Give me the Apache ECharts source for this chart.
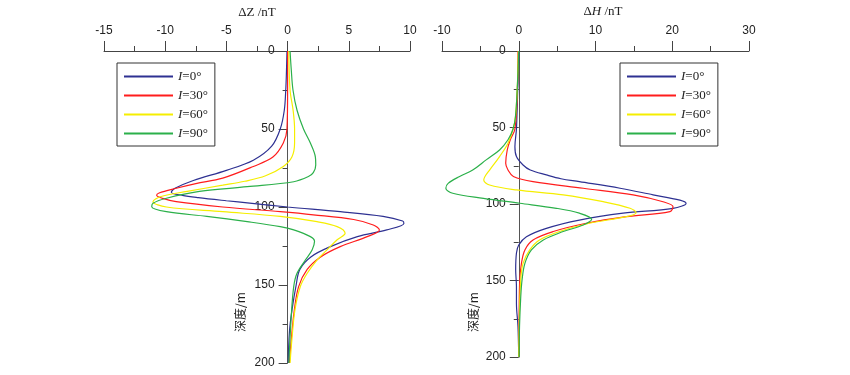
<!DOCTYPE html>
<html>
<head>
<meta charset="utf-8">
<script src="https://cdn.jsdelivr.net/npm/echarts@6/dist/echarts.min.js"></script>
<style>
  html, body { margin: 0; padding: 0; background: #fff; }
  #chart { width: 850px; height: 375px; }
</style>
</head>
<body>
<div id="chart"></div>
<script>
// curve names (I = inclination)
const names = ['I=0°', 'I=30°', 'I=60°', 'I=90°'];
const colors = ['#2e3192', '#ff1c1c', '#f5ee00', '#2bb04a'];

// ΔZ (nT) vs depth (m), pairs [value, depth]
const dz0 = [[-0.05,0],[-0.1,15],[-0.15,25],[-0.27,38],[-0.6,50],[-1.3,61],[-2.8,70],[-5.0,76.5],[-7.7,83],[-9.2,88],[-9.5,90.5],[-8.6,92.5],[-7.3,94],[-5.0,96],[-3.1,97.5],[0,100],[4.3,103],[7.8,106],[9.4,109],[9.5,110.5],[8.1,114.7],[5.7,119],[3.5,125.4],[1.9,132],[1.0,140],[0.7,150],[0.36,166],[0.15,180],[0.05,200]];
const dz30 = [[0,0],[0,25],[-0.05,50],[-0.35,59],[-1.2,68],[-2.8,74],[-5.3,81.5],[-7.5,85],[-9.1,88],[-10.5,91],[-10.7,92.5],[-10.2,94.5],[-9.1,96.6],[-5.3,100],[-0.6,103],[2.1,105],[5.4,108],[7.0,111.5],[7.5,114.7],[6.5,119],[4.3,125.4],[2.7,132],[1.6,140],[0.9,151],[0.55,166],[0.3,185],[0.15,200]];
const dz60 = [[0.1,0],[0.2,25],[0.45,38],[0.57,50],[0.57,59],[0.35,68],[-0.35,74],[-1.8,80],[-3.5,83.5],[-5.3,86],[-8.2,90],[-10.4,93.4],[-11.0,96.6],[-9.9,100],[-5.3,103],[-0.6,106],[2.4,109.4],[4.05,112.6],[4.7,116.9],[4.05,121],[3.2,127.6],[2.4,134],[1.6,142.5],[1.04,151],[0.6,166],[0.35,185],[0.2,200]];
const dz90 = [[0.2,0],[0.3,12],[0.44,25],[0.77,38],[1.3,50],[1.86,59],[2.27,68],[2.3,73],[2.1,78],[1.7,80.5],[0.5,83.8],[-3.3,87],[-7.2,90],[-9.9,94.4],[-11.0,97.6],[-11.1,99.8],[-9.9,103],[-6.6,106],[-3.3,109.4],[-0.6,112.6],[0.5,114.7],[1.86,119],[2.2,122],[2.0,127.6],[1.45,134],[0.77,142.5],[0.5,151],[0.3,170],[0.1,200]];

// ΔH (nT) vs depth (m)
const dh0 = [[0,0],[-0.05,15],[-0.13,25],[-0.3,51],[-0.5,62.5],[-0.3,69],[0.56,74.5],[1.5,77.8],[3.6,81],[5.5,83.5],[7.9,85.4],[13.2,89.7],[17.5,94],[21.0,97.5],[21.8,99.6],[20.1,102.8],[13.6,106],[7.9,110.5],[3.6,115.9],[1.0,121.4],[0,126.8],[-0.3,132],[-0.4,143],[-0.3,154],[-0.3,165],[-0.1,180],[0,200]];
const dh30 = [[-0.1,0],[-0.17,25],[-0.5,51],[-1.1,58],[-1.5,64.7],[-1.7,73.4],[-1.4,77.8],[-0.7,82],[1.86,85.4],[8.4,89.7],[14.9,94],[18.8,98.5],[20.1,101.8],[19.7,105],[14.0,108.3],[8.8,112.6],[4.5,118],[1.86,123.5],[0.8,130],[0.35,138.8],[0.13,149.7],[0.05,170],[0,200]];
const dh60 = [[-0.05,0],[-0.2,25],[-0.43,43],[-0.74,51],[-1.4,60.3],[-2.5,69],[-3.8,77.8],[-4.4,82],[-4.56,84.3],[-3.8,87.6],[-0.3,90.8],[5.8,94],[11.0,98.5],[14.5,102.8],[15.3,105.7],[14.0,108.3],[9.2,112.6],[5.3,118],[2.7,123.5],[1.43,130],[0.56,138.8],[0.26,149.7],[0.1,170],[0,200]];
const dh90 = [[0,0],[-0.2,25],[-0.43,43],[-0.74,51],[-1.4,58],[-2.5,64.7],[-4.2,71],[-6.0,77.8],[-7.7,82],[-9.2,86.5],[-9.5,89.7],[-8.6,93],[-4.6,96.3],[0.13,99.5],[4.9,102.8],[7.9,106],[9.5,110],[8.4,113.7],[5.8,118],[3.2,123.5],[1.65,130],[0.8,138.8],[0.43,149.7],[0.26,160.6],[0.1,180],[0.05,200]];

const dzCurves = [dz0, dz30, dz60, dz90];
const dhCurves = [dh0, dh30, dh60, dh90];

const chart = echarts.init(document.getElementById('chart'));

const labelFont = { color: '#222', fontSize: 12, fontFamily: 'Liberation Sans, Arial, sans-serif' };
const axisColor = '#444';

function xAxisCfg(grid, min, max, interval) {
  return {
    gridIndex: grid,
    type: 'value',
    position: 'top',
    min: min,
    max: max,
    interval: interval,
    axisLine: { onZero: false, lineStyle: { color: axisColor, width: 1 } },
    axisTick: { show: true, inside: false, length: 10, lineStyle: { color: axisColor } },
    minorTick: { show: true, splitNumber: 2, length: 5, lineStyle: { color: axisColor } },
    axisLabel: { ...labelFont, margin: 14 },
    splitLine: { show: false },
    minorSplitLine: { show: false }
  };
}

// depth axis sits on the x = 0 line of its panel
function yAxisCfg(grid, offset) {
  return {
    gridIndex: grid,
    type: 'value',
    position: 'left',
    offset: offset,
    inverse: true,
    min: 0,
    max: 200,
    interval: 50,
    axisLine: { onZero: false, lineStyle: { color: '#555', width: 1 } },
    axisTick: { show: true, inside: false, length: 9, lineStyle: { color: axisColor } },
    minorTick: { show: true, splitNumber: 2, length: 5, lineStyle: { color: axisColor } },
    axisLabel: { ...labelFont, margin: 13 },
    splitLine: { show: false },
    minorSplitLine: { show: false }
  };
}

function legendCfg(left) {
  return {
    left: left,
    top: 63,
    orient: 'vertical',
    data: names,
    backgroundColor: '#fff',
    borderColor: '#333',
    borderWidth: 1,
    borderRadius: 0,
    padding: [7, 7, 6, 6],
    itemWidth: 49,
    itemHeight: 14,
    itemGap: 6,
    selectedMode: false,
    itemStyle: { opacity: 0 },
    formatter: n => '{i|I}' + n.slice(1),
    textStyle: {
      fontFamily: 'Liberation Serif, Times New Roman, serif',
      fontSize: 13,
      color: '#222',
      rich: { i: { fontStyle: 'italic', fontFamily: 'Liberation Serif, Times New Roman, serif', fontSize: 13, color: '#222' } }
    }
  };
}

const series = [];
dzCurves.forEach((d, i) => series.push({
  name: names[i], type: 'line', xAxisIndex: 0, yAxisIndex: 0, data: d,
  symbol: 'none', smooth: 0.35, lineStyle: { color: colors[i], width: 1.2 }, itemStyle: { color: colors[i] }, z: 3 + i
}));
dhCurves.forEach((d, i) => series.push({
  name: names[i], type: 'line', xAxisIndex: 1, yAxisIndex: 1, data: d,
  symbol: 'none', smooth: 0.35, lineStyle: { color: colors[i], width: 1.2 }, itemStyle: { color: colors[i] }, z: 3 + i
}));

const titleFont = 'Liberation Serif, Times New Roman, serif';

chart.setOption({
  animation: false,
  backgroundColor: '#fff',
  grid: [
    { left: 104, width: 306, top: 51, height: 312 },
    { left: 442, width: 307, top: 51, height: 306 }
  ],
  xAxis: [xAxisCfg(0, -15, 10, 5), xAxisCfg(1, -10, 30, 10)],
  yAxis: [yAxisCfg(0, -183.6), yAxisCfg(1, -76.75)],
  legend: [legendCfg(117), legendCfg(620)],
  graphic: [
    { type: 'text', x: 257, y: 13, style: { text: 'ΔZ /nT', font: '13px ' + titleFont, fill: '#222', align: 'center', verticalAlign: 'middle' } },
    { type: 'text', x: 603, y: 12, style: {
      text: 'Δ{i|H} /nT', font: '13px ' + titleFont, fill: '#222', align: 'center', verticalAlign: 'middle',
      rich: { i: { fontStyle: 'italic', fontFamily: titleFont, fontSize: 13, fill: '#222' } } } },
    { type: 'text', x: 240, y: 312, rotation: Math.PI / 2, style: { text: '深度/m', font: '12px Noto Sans CJK SC, sans-serif', fill: '#222', align: 'center', verticalAlign: 'middle' } },
    { type: 'text', x: 473, y: 312, rotation: Math.PI / 2, style: { text: '深度/m', font: '12px Noto Sans CJK SC, sans-serif', fill: '#222', align: 'center', verticalAlign: 'middle' } }
  ],
  series: series
});
</script>
</body>
</html>
